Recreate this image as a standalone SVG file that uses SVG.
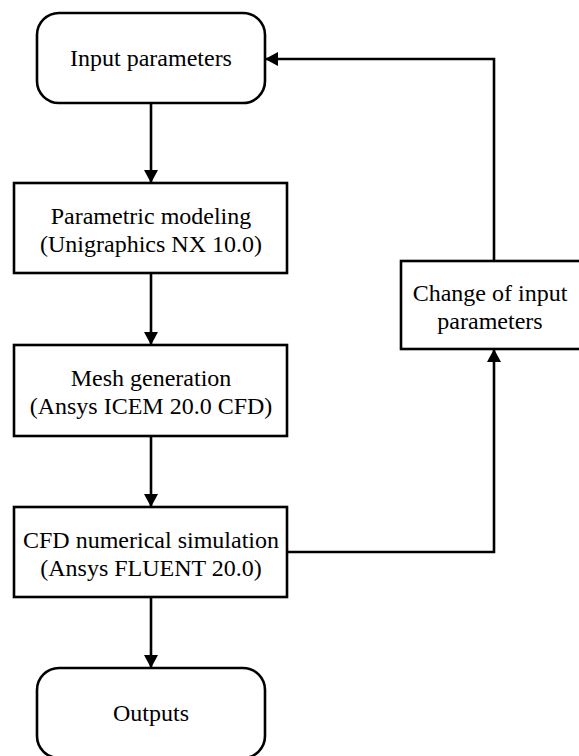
<svg xmlns="http://www.w3.org/2000/svg" width="579" height="756" viewBox="0 0 579 756">
<style>
.box{fill:#fff;stroke:#000;stroke-width:2.6}
.t{font-size:24px;fill:#000;text-anchor:middle}
.c{fill:none;stroke:#000;stroke-width:2.6}
</style>
<defs>
<marker id="ah" markerUnits="userSpaceOnUse" markerWidth="16" markerHeight="16" viewBox="0 0 16 16" refX="14" refY="8" orient="auto">
<path d="M1,1 L14,8 L1,15 Z" fill="#000"/>
</marker>
</defs>
<g id="connectors">
<line class="c" x1="151" y1="103" x2="151" y2="183" marker-end="url(#ah)"/>
<line class="c" x1="151" y1="273" x2="151" y2="345" marker-end="url(#ah)"/>
<line class="c" x1="151" y1="436" x2="151" y2="507" marker-end="url(#ah)"/>
<line class="c" x1="151" y1="597" x2="151" y2="668" marker-end="url(#ah)"/>
<polyline class="c" points="287,552 494,552 494,349" marker-end="url(#ah)"/>
<polyline class="c" points="494,261 494,59 265,59" marker-end="url(#ah)"/>
</g>
<g id="input">
<rect class="box" x="37" y="13" width="228" height="90" rx="22"/>
<text class="t" x="151" y="66" font-family="Liberation Serif">Input parameters</text>
</g>
<g id="parametric">
<rect class="box" x="14" y="183" width="273" height="90"/>
<text class="t" x="151" y="224" font-family="Liberation Serif">Parametric modeling</text>
<text class="t" x="151" y="252" font-family="Liberation Serif">(Unigraphics NX 10.0)</text>
</g>
<g id="mesh">
<rect class="box" x="14" y="345" width="273" height="91"/>
<text class="t" x="151" y="386" font-family="Liberation Serif">Mesh generation</text>
<text class="t" x="151" y="414" font-family="Liberation Serif">(Ansys ICEM 20.0 CFD)</text>
</g>
<g id="cfd">
<rect class="box" x="14" y="507" width="273" height="90"/>
<text class="t" x="151" y="548" font-family="Liberation Serif">CFD numerical simulation</text>
<text class="t" x="151" y="576" font-family="Liberation Serif">(Ansys FLUENT 20.0)</text>
</g>
<g id="outputs">
<rect class="box" x="37" y="668" width="228" height="90" rx="22"/>
<text class="t" x="151" y="721" font-family="Liberation Serif">Outputs</text>
</g>
<g id="change">
<rect class="box" x="401" y="261" width="181" height="88"/>
<text class="t" x="490" y="301" font-family="Liberation Serif">Change of input</text>
<text class="t" x="490" y="329" font-family="Liberation Serif">parameters</text>
</g>
</svg>
